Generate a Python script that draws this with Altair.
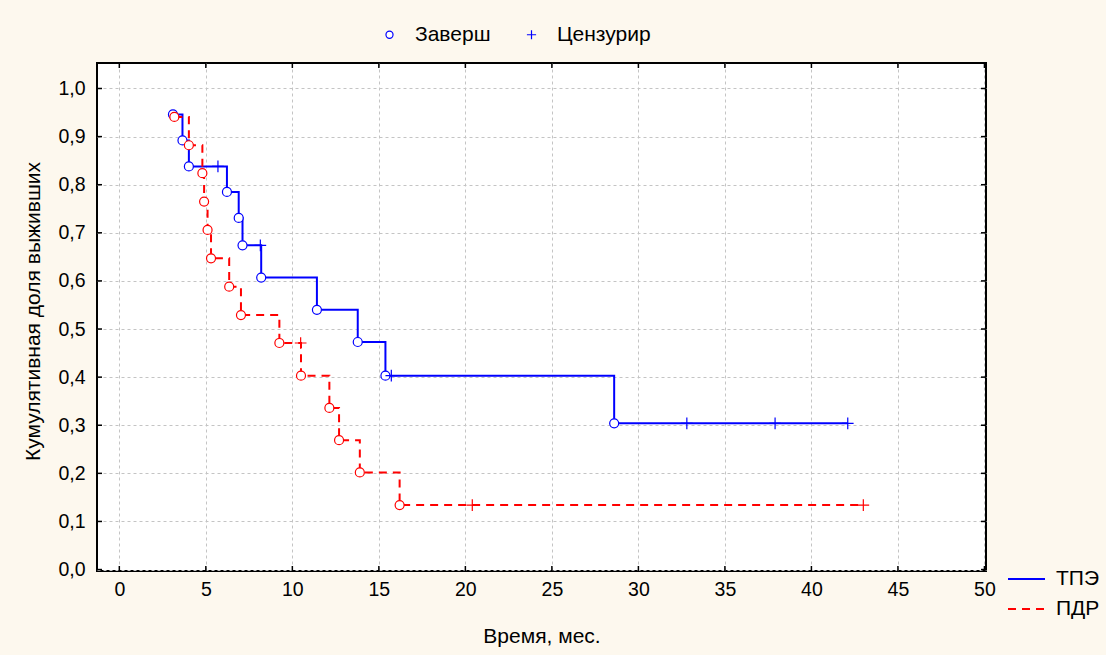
import altair as alt
import pandas as pd

# Kaplan–Meier estimates: time (months), cumulative survival, event status
tpe_time = [3.1, 3.65, 4.02, 5.7, 6.22, 6.9, 7.12, 8.15, 8.2, 11.42, 13.78, 15.38, 15.72,
            28.6, 32.8, 37.9, 42.1]
tpe_surv = [0.946, 0.892, 0.838, 0.838, 0.785, 0.731, 0.674, 0.674, 0.607, 0.540, 0.473,
            0.403, 0.403, 0.304, 0.304, 0.304, 0.304]
tpe_status = (["Заверш"] * 3 + ["Цензурир"] + ["Заверш"] * 3 + ["Цензурир"]
              + ["Заверш"] * 4 + ["Цензурир"] + ["Заверш"] + ["Цензурир"] * 3)

pdr_time = [3.18, 4.02, 4.8, 4.9, 5.1, 5.3, 6.35, 7.03, 9.25, 10.48, 10.5, 12.14, 12.7,
            13.9, 16.2, 20.4, 43.0]
pdr_surv = [0.941, 0.882, 0.824, 0.765, 0.706, 0.647, 0.588, 0.529, 0.471, 0.471, 0.403,
            0.336, 0.269, 0.202, 0.134, 0.134, 0.134]
pdr_status = (["Заверш"] * 9 + ["Цензурир"] + ["Заверш"] * 5 + ["Цензурир"] * 2)

groups = ["ТПЭ", "ПДР"]
group_colors = ["#0000ff", "#ff0000"]
statuses = ["Заверш", "Цензурир"]

x_ticks = [0, 5, 10, 15, 20, 25, 30, 35, 40, 45, 50]
y_ticks = [0.0, 0.1, 0.2, 0.3, 0.4, 0.5, 0.6, 0.7, 0.8, 0.9, 1.0]

FONT = "Liberation Sans"
TICK_FS = 19.5
TEXT_FS = 21
W, H = 889, 508

df = pd.concat([
    pd.DataFrame({"t": tpe_time, "s": tpe_surv, "status": tpe_status, "group": groups[0]}),
    pd.DataFrame({"t": pdr_time, "s": pdr_surv, "status": pdr_status, "group": groups[1]}),
], ignore_index=True)

xscale = alt.Scale(domain=[-1.29, 50.09], nice=False, zero=False)
yscale = alt.Scale(domain=[-0.003, 1.053], nice=False, zero=False)

x_axis = alt.Axis(
    values=x_ticks, format="d", grid=True, gridDash=[3, 3], gridColor="#c4c4c4",
    gridWidth=1, domain=False, ticks=False, tickSize=0, labelPadding=9,
    labelFont=FONT, labelFontSize=TICK_FS, labelColor="black",
    title="Время, мес.", titleFont=FONT, titleFontSize=TEXT_FS, titleFontWeight="normal",
    titleColor="black", titleX=W / 2, titleY=71, titleAlign="center",
    titleBaseline="alphabetic",
)
y_axis = alt.Axis(
    values=y_ticks, labelExpr="replace(format(datum.value, '.1f'), '.', ',')",
    grid=True, gridDash=[3, 3], gridColor="#c4c4c4", gridWidth=1, domain=False,
    ticks=False, tickSize=0, labelPadding=12, labelFont=FONT, labelFontSize=TICK_FS,
    labelColor="black",
    title="Кумулятивная доля выживших", titleFont=FONT, titleFontSize=TEXT_FS,
    titleFontWeight="normal", titleColor="black", titleAngle=270, titleX=-58,
    titleY=248, titleAlign="center", titleBaseline="alphabetic",
)

X = alt.X("t:Q", scale=xscale, axis=x_axis)
Y = alt.Y("s:Q", scale=yscale, axis=y_axis)

group_legend = alt.Legend(
    title=None, orient="none", legendX=910, legendY=496.5, symbolType="stroke",
    symbolSize=1369, symbolStrokeWidth=2, labelFont=FONT, labelFontSize=TEXT_FS,
    labelColor="black", labelOffset=10, rowPadding=-8, padding=0,
)

lines = alt.Chart(df).mark_line(interpolate="step-after", strokeWidth=2).encode(
    x=X, y=Y,
    color=alt.Color("group:N", scale=alt.Scale(domain=groups, range=group_colors),
                    legend=group_legend),
    strokeDash=alt.StrokeDash("group:N",
                              scale=alt.Scale(domain=groups, range=[[1, 0], [8, 6]]),
                              legend=group_legend),
    order="t:Q",
)

cross = "M-1.3,0H1.3M0,-1.3V1.3"
status_legend = alt.Legend(
    title=None, orient="none", direction="horizontal", legendX=282, legendY=-39,
    symbolSize=50, symbolStrokeWidth=1.2, symbolFillColor="transparent",
    labelFont=FONT, labelFontSize=TEXT_FS, labelColor="black", labelOffset=15,
    columnPadding=30, padding=0,
)
shape = alt.Shape("status:N", scale=alt.Scale(domain=statuses, range=["circle", cross]),
                  legend=status_legend)


def markers(group, colour):
    return alt.Chart(df).transform_filter(
        alt.datum.group == group
    ).mark_point(filled=False, fill="white", stroke=colour, strokeWidth=1.2, size=81,
                 opacity=1).encode(x=X, y=Y, shape=shape)


points_tpe = markers(groups[0], group_colors[0])
points_pdr = markers(groups[1], group_colors[1])

tick_df = pd.DataFrame({"v": x_ticks})
ytick_df = pd.DataFrame({"v": y_ticks})
XT = alt.X("v:Q", scale=xscale, axis=x_axis)
YT = alt.Y("v:Q", scale=yscale, axis=y_axis)
xt_bottom = alt.Chart(tick_df).mark_rule(color="black", strokeWidth=1.5).encode(
    x=XT, y=alt.value(H), y2=alt.value(H - 5))
xt_top = alt.Chart(tick_df).mark_rule(color="black", strokeWidth=1.5).encode(
    x=XT, y=alt.value(0), y2=alt.value(5))
yt_left = alt.Chart(ytick_df).mark_rule(color="black", strokeWidth=1.5).encode(
    y=YT, x=alt.value(0), x2=alt.value(5))
yt_right = alt.Chart(ytick_df).mark_rule(color="black", strokeWidth=1.5).encode(
    y=YT, x=alt.value(W), x2=alt.value(W - 5))

chart = alt.layer(
    lines, points_tpe, points_pdr, xt_bottom, xt_top, yt_left, yt_right
).properties(
    width=W, height=H,
    autosize=alt.AutoSizeParams(type="none"),
    padding={"left": 97, "top": 63, "right": 1106 - 97 - W, "bottom": 655 - 63 - H},
    background="#fdf8ee",
).configure_view(
    stroke="black", strokeWidth=2, fill="white",
)

chart.save("out.html", embed_options={"renderer": "svg", "actions": False})
